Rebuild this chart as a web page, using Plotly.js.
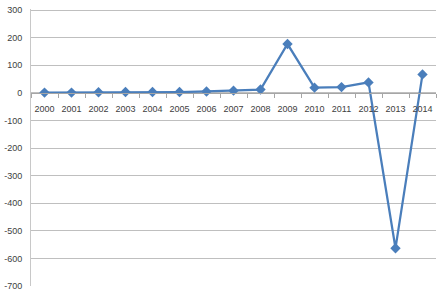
<!DOCTYPE html>
<html>
<head>
<meta charset="utf-8">
<script src="https://cdn.plot.ly/plotly-3.0.1.min.js"></script>
<style>html,body{margin:0;padding:0;background:#fff;}#chart{width:446px;height:297px;}</style>
</head>
<body>
<div id="chart"></div>
<script>
const years = ['2000','2001','2002','2003','2004','2005','2006','2007','2008','2009','2010','2011','2012','2013','2014'];
const values = [1, 1, 2, 3, 3, 3, 5, 8, 12, 177, 19, 21, 38, -563, 67];
const yTicks = [300, 200, 100, 0, -100, -200, -300, -400, -500, -600, -700];

const font = {family: 'Liberation Sans, Arial, sans-serif', size: 9, color: '#404040'};
const yMin = -700, yMax = 304;

const trace = {
  x: years,
  y: values,
  type: 'scatter',
  mode: 'lines+markers',
  line: {color: '#4a7ebb', width: 2.25},
  marker: {symbol: 'diamond', size: 8, color: '#4a7ebb'},
  cliponaxis: false,
  hoverinfo: 'skip'
};

const layout = {
  width: 446, height: 297,
  margin: {l: 31, r: 10, t: 9, b: 11, pad: 0},
  paper_bgcolor: '#ffffff',
  plot_bgcolor: '#ffffff',
  showlegend: false,
  font: font,
  xaxis: {
    type: 'category',
    range: [-0.5, years.length - 0.5],
    anchor: 'free',
    position: (0 - yMin) / (yMax - yMin),
    showline: true, linecolor: '#a6a6a6', linewidth: 1,
    ticks: 'outside', ticklen: 4, tickcolor: '#a6a6a6', tickson: 'boundaries',
    tickangle: 0, ticklabelstandoff: 7,
    showgrid: false, zeroline: false,
    tickfont: font, fixedrange: true
  },
  yaxis: {
    range: [yMin, yMax],
    tickvals: yTicks,
    ticktext: yTicks.map(String),
    showline: true, linecolor: '#c8c8c8', linewidth: 1,
    showgrid: true, gridcolor: '#bfbfbf', gridwidth: 1,
    zeroline: false,
    ticks: '', ticklabelstandoff: 6,
    tickfont: font, fixedrange: true
  }
};

Plotly.newPlot('chart', [trace], layout, {displayModeBar: false, staticPlot: true});
</script>
</body>
</html>
